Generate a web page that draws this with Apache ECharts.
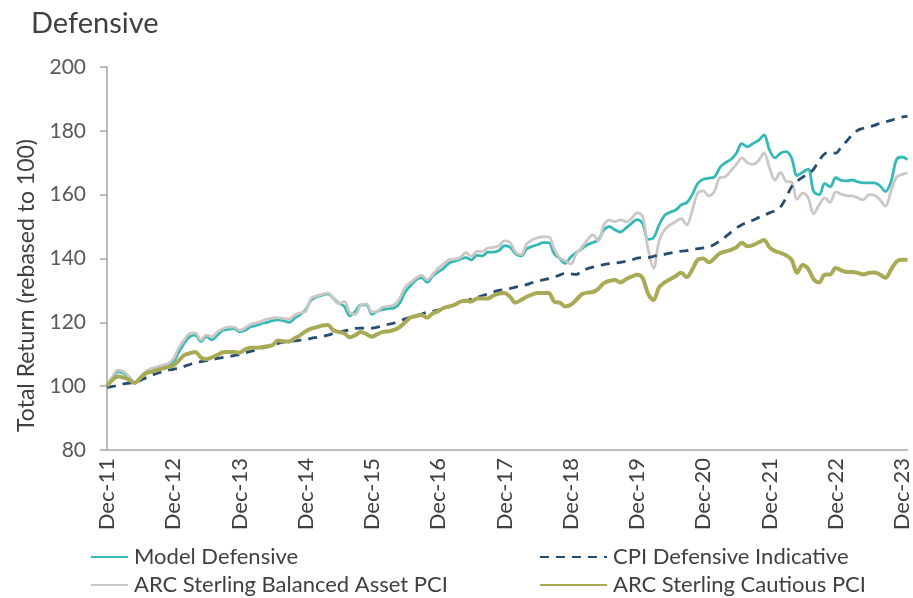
<!DOCTYPE html>
<html>
<head>
<meta charset="utf-8">
<script src="https://cdn.jsdelivr.net/npm/echarts@6/dist/echarts.min.js"></script>
<style>
  html, body { margin: 0; padding: 0; background: #fff; }
  #chart { width: 913px; height: 598px; }
</style>
</head>
<body>
<div id="chart"></div>
<script>
// monthly values, Dec-11 .. Jan-24 (rebased to 100)
const modelDefensive = [
  100, 102.5, 104.5, 104, 102.5, 101, 102.5, 104, 105, 105.5, 106, 106.5,
  107.5, 110.7, 113.5, 115.5, 116, 114, 115.5, 114.5, 116, 117.5, 117.8, 118,
  117, 117.5, 118.6, 119, 119.6, 120, 120.5, 120.8, 120.5, 120, 121.3, 122.5,
  124, 127, 128, 128.5, 128.9, 127.5, 126, 125, 122, 123.5, 125.5, 125.5,
  122.5, 123.5, 124, 124.3, 124.5, 126, 129.5, 131.5, 133.3, 134, 132.5, 134.5,
  135.8, 137, 138.6, 139.2, 139.8, 140.3, 139.6, 141, 140.8, 142, 142, 142.5,
  144, 143.6, 141.5, 140.8, 143, 143.8, 144.3, 145, 145, 141.5, 140, 138.5,
  140.5, 141.8, 143, 144.3, 145, 145.8, 149, 150, 149, 148.3, 149.5, 151,
  152.2, 151, 146, 146.5, 150.5, 153.5, 154.5, 155.2, 156.8, 157.5, 160, 163.5,
  164.8, 165.2, 165.5, 168.5, 170, 171, 173, 176, 175, 176, 177, 178.7,
  174, 171.5, 173, 173.5, 171.5, 166, 167, 168, 161, 160, 163.5, 162.5,
  165.3, 164.5, 164.3, 164.6, 164, 163.7, 163.7, 163.7, 162.8, 161, 164, 171,
  171.8, 171
];
const cpiDefensive = [
  99.6, 99.9, 100.3, 100.7, 101, 101, 101.8, 102.6, 103.3, 104, 104.5, 105,
  105.3, 105.6, 106.2, 106.8, 107.4, 107.7, 108, 108.3, 108.7, 109, 109.3, 109.6,
  109.9, 110.4, 110.9, 111.4, 111.9, 112.3, 112.8, 113.4, 113.8, 114, 114.2, 114.4,
  114.6, 115, 115.3, 115.6, 116, 116.5, 116.9, 117.3, 117.7, 118.1, 118.2, 118.2,
  118.2, 118.5, 119, 119.4, 119.8, 120.4, 121.1, 121.7, 122.2, 122.6, 123.2, 123.5,
  123.8, 124.3, 124.8, 125.5, 126.1, 126.7, 127.3, 127.8, 128.4, 128.9, 129.5, 130,
  130.3, 130.6, 131, 131.4, 131.8, 132.4, 132.9, 133.3, 133.7, 134.2, 134.8, 135.4,
  135.2, 135, 136.2, 136.8, 137.3, 137.8, 138.1, 138.4, 138.6, 138.8, 139.1, 139.5,
  140.1, 140.3, 140.3, 140.7, 141, 141.3, 141.7, 142, 142.3, 142.5, 142.8, 143.1,
  143.3, 143.6, 144.4, 145.5, 146.8, 148.2, 149.5, 150.6, 151.3, 152, 152.8, 153.5,
  154.3, 155, 156.2, 159, 162.5, 164.2, 165.5, 166.4, 168, 170.8, 172.8, 173.3,
  173, 175, 176.8, 178.8, 180.2, 180.8, 181.2, 181.7, 182.4, 182.8, 183.3, 183.8,
  184.3, 184.5
];
const arcBalanced = [
  100, 103, 105, 104.5, 103, 101.2, 102.8, 104.5, 105.5, 106, 106.5, 107,
  108.5, 112, 114.5, 116.5, 116.7, 114.5, 116, 115.5, 117, 118, 118.5, 118.5,
  117.5, 118.2, 119.3, 119.8, 120.3, 121, 121.3, 121.5, 121.2, 121, 122.3, 123,
  123.5, 127.6, 128.3, 128.8, 129.2, 127.5, 125.8, 126.5, 123, 122.5, 125.5, 125.8,
  123.2, 123.5, 124.8, 125, 125.5, 127.5, 131, 132.5, 133.9, 134.7, 133.3, 135,
  137, 138.3, 139.6, 139.9, 140.3, 141.8, 140.7, 142.2, 142.3, 143.3, 143.5, 144,
  145.5, 145, 142, 141.2, 144.5, 145.8, 146.5, 146.8, 146.8, 143, 140.2, 139.3,
  138.3, 141.5, 143.5, 145.8, 147.4, 145.5, 150.5, 152, 151.5, 152.1, 151.5, 152.5,
  154.3, 153.3, 143, 137, 145.5, 149, 150.5, 151.5, 152.5, 150.5, 155, 160.5,
  161.2, 159.6, 161, 165.3, 165.6, 167.5, 169.5, 171.5, 170, 169.5, 170.6, 173.1,
  168.4, 164.6, 167, 164.2, 163.9, 158.5, 160.5, 159, 154, 156.8, 159, 157.6,
  160.9, 160.2, 159.7, 159.6, 159, 158.4, 160, 159.8, 158.4, 156.4, 161, 165.5,
  166.3, 166.8
];
const arcCautious = [
  100, 102, 103, 102.7, 102, 101, 102.5, 104, 104.5, 105, 105.5, 106,
  106.5, 108, 109.7, 110.3, 110.7, 109, 108.5, 109, 109.8, 110.6, 110.7, 110.7,
  110.5, 111.5, 112, 112, 112.2, 112.5, 112.9, 114.3, 114, 114, 115, 116,
  117.2, 118, 118.5, 119, 119.2, 117.5, 117, 116.5, 115.3, 116, 117, 116.3,
  115.5, 116.3, 117, 117.2, 117.6, 118.5, 120, 121.5, 122, 122.3, 121.5, 122.8,
  123.5, 124.5, 125, 125.5, 126.5, 126.8, 126.5, 127.5, 127.5, 127.5, 128.4, 129,
  129.2, 128, 126.2, 127, 128, 128.7, 129.2, 129.2, 129.2, 126.5, 126.2, 125,
  125.5, 127, 128.8, 129.3, 129.5, 130.5, 132.3, 133, 133.3, 132.5, 133.5, 134.3,
  134.9, 134, 129, 127, 131, 132.5, 133.5, 134.5, 135.5, 134.2, 136.5, 139.6,
  140, 138.8, 140, 141.6, 142.2, 142.7, 143.5, 144.9, 143.8, 144.2, 145, 145.8,
  143.5, 142.3, 141.8, 141, 139.6, 135.5, 138, 136.8, 133.5, 132.5, 134.9, 135,
  137, 136.3, 135.8, 135.8, 135.5, 135, 135.5, 135.6, 135, 134, 136.5, 139,
  139.6, 139.6
];
const monthNames = ['Jan', 'Feb', 'Mar', 'Apr', 'May', 'Jun', 'Jul', 'Aug', 'Sep', 'Oct', 'Nov', 'Dec'];
const yTicks = { min: 80, max: 200, step: 20 };

// Dec-11, Jan-12, ... one per data point
const categories = modelDefensive.map(function (v, i) {
  const m = (11 + i) % 12;
  const y = 11 + Math.floor((11 + i) / 12);
  return monthNames[m] + '-' + y;
});

const FONT = 'Lato';
const TEXT = '#404040';

const chart = echarts.init(document.getElementById('chart'), null, { renderer: 'canvas' });

// one legend per entry so each can be placed like the original
function legendItem(name, left, top, width) {
  return {
    data: [name],
    left: left,
    top: top,
    padding: 0,
    itemWidth: width,
    itemHeight: 6,
    itemGap: 0,
    itemStyle: { opacity: 0 },   // hide the marker dot, keep the line
    textStyle: { fontFamily: FONT, fontSize: 22, color: TEXT, padding: [0, 0, 0, 1] }
  };
}

const option = {
  animation: false,
  backgroundColor: '#fff',
  textStyle: { fontFamily: FONT },
  title: {
    text: 'Defensive',
    left: 26,
    top: 4,
    textStyle: { fontFamily: FONT, fontSize: 29, fontWeight: 'normal', color: TEXT }
  },
  legend: [
    legendItem('Model Defensive', 90, 546, 37),
    legendItem('ARC Sterling Balanced Asset PCI', 90, 574, 37),
    legendItem('CPI Defensive Indicative', 539, 546, 67),
    legendItem('ARC Sterling Cautious PCI', 539, 574, 67)
  ],
  grid: {
    left: 107,
    right: 0,
    top: 67,
    bottom: 148,
    containLabel: false
  },
  xAxis: {
    type: 'category',
    data: categories,
    boundaryGap: false,
    axisLine: { lineStyle: { color: '#a6a6a6', width: 1.5 } },
    axisTick: { show: false },
    axisLabel: {
      interval: function (idx) { return idx % 12 === 0; },
      rotate: 90,
      margin: 8,
      fontFamily: FONT,
      fontSize: 22,
      color: TEXT
    },
    splitLine: { show: false }
  },
  yAxis: {
    type: 'value',
    min: yTicks.min,
    max: yTicks.max,
    interval: yTicks.step,
    name: 'Total Return (rebased to 100)',
    nameLocation: 'middle',
    nameGap: 66,
    nameTextStyle: { fontFamily: FONT, fontSize: 23, color: TEXT, padding: [0, 54, 0, 0] },
    axisLine: { show: true, lineStyle: { color: '#a6a6a6', width: 1.5 } },
    axisTick: { show: true, length: 7, lineStyle: { color: '#a6a6a6', width: 1.5 } },
    axisLabel: { margin: 21, fontFamily: FONT, fontSize: 21, color: '#595959' },
    splitLine: { show: false }
  },
  series: [
    {
      name: 'Model Defensive',
      type: 'line',
      data: modelDefensive,
      smooth: 0.35,
      symbol: 'none',
      color: '#34b9b6',
      lineStyle: { width: 2.8 },
      z: 2
    },
    {
      name: 'CPI Defensive Indicative',
      type: 'line',
      data: cpiDefensive,
      smooth: 0.35,
      symbol: 'none',
      color: '#264d70',
      lineStyle: { width: 2.8, type: [9, 7] },
      z: 3
    },
    {
      name: 'ARC Sterling Balanced Asset PCI',
      type: 'line',
      data: arcBalanced,
      smooth: 0.35,
      symbol: 'none',
      color: '#ccc7c4',
      lineStyle: { width: 2.8 },
      z: 2
    },
    {
      name: 'ARC Sterling Cautious PCI',
      type: 'line',
      data: arcCautious,
      smooth: 0.35,
      symbol: 'none',
      color: '#a9aa55',
      lineStyle: { width: 4 },
      z: 4
    }
  ]
};

chart.setOption(option);
</script>
</body>
</html>
